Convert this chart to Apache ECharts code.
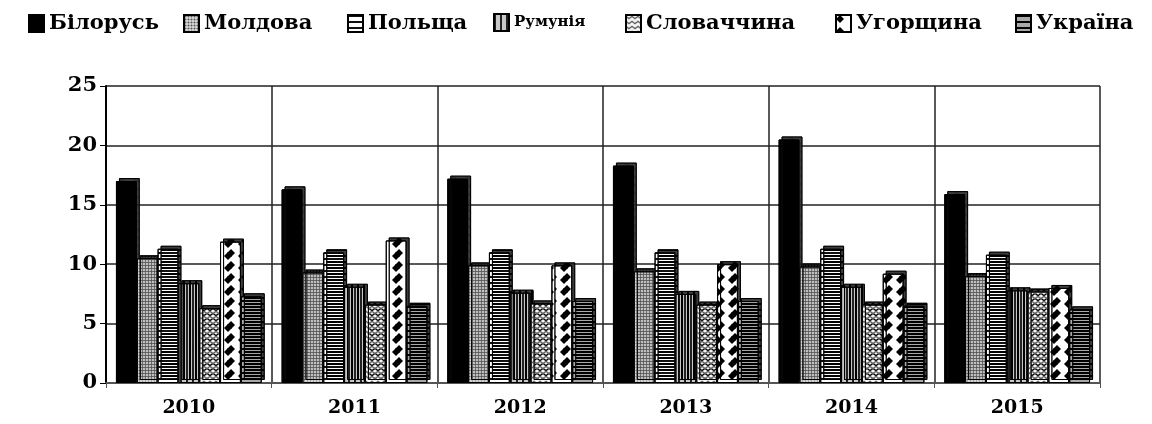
<!DOCTYPE html>
<html>
<head>
<meta charset="utf-8">
<script src="https://cdn.jsdelivr.net/npm/echarts@6/dist/echarts.min.js"></script>
<style>html,body{margin:0;padding:0;background:#fff}#c{width:1152px;height:424px}</style>
</head>
<body>
<div id="c"></div>
<script>
const years = ['2010', '2011', '2012', '2013', '2014', '2015'];
const belarus  = [17.0, 16.3, 17.2, 18.3, 20.5, 15.9];
const moldova  = [10.5, 9.3, 9.9, 9.4, 9.8, 9.0];
const poland   = [11.3, 11.0, 11.0, 11.0, 11.3, 10.8];
const romania  = [8.4, 8.1, 7.6, 7.5, 8.1, 7.8];
const slovakia = [6.3, 6.6, 6.7, 6.6, 6.6, 7.7];
const hungary  = [11.9, 12.0, 9.9, 10.0, 9.2, 8.0];
const ukraine  = [7.3, 6.5, 6.9, 6.9, 6.5, 6.2];
const yTicks = [0, 5, 10, 15, 20, 25];

const names = ['Білорусь', 'Молдова', 'Польща', 'Румунія', 'Словаччина', 'Угорщина', 'Україна'];
const values = [belarus, moldova, poland, romania, slovakia, hungary, ukraine];

const fills = ['#000', '#e0e0e0', '#fff', '#c8c8c8', '#f4f4f4', '#fff', '#a8a8a8'];
const decals = [
  null,
  {symbol: 'circle', symbolSize: 0.7, color: '#555', dashArrayX: [3, 0], dashArrayY: [3, 0], rotation: 0},
  {symbol: 'rect', color: '#111', dashArrayX: [1, 0], dashArrayY: [2, 4], rotation: 0},
  {symbol: 'rect', color: '#222', dashArrayX: [2, 4], dashArrayY: [1, 0], rotation: 0},
  {symbol: 'path://M0,0 L5,4 L10,0 L10,3 L5,7 L0,3 Z', symbolSize: 1, color: '#666', dashArrayX: [6, 0], dashArrayY: [5, 0], rotation: 0},
  {symbol: 'diamond', symbolSize: 1, color: '#000', dashArrayX: [[8, 6]], dashArrayY: [8, 4], rotation: 0},
  {symbol: 'rect', color: '#000', dashArrayX: [1, 0], dashArrayY: [2, 4], rotation: 0}
];

const font = "'DejaVu Serif', 'Liberation Serif', serif";

const series = names.map((n, i) => ({
  name: n,
  type: 'bar',
  data: values[i],
  barGap: '0%',
  barCategoryGap: '12%',
  itemStyle: {
    color: fills[i],
    borderColor: '#000',
    borderWidth: 1,
    decal: decals[i] || undefined,
    shadowColor: 'rgba(40,40,40,0.9)',
    shadowBlur: 0,
    shadowOffsetX: 3,
    shadowOffsetY: -3
  }
}));

const legendX = [28, 183, 347, 493, 625, 835, 1015];
const legends = names.map((n, i) => ({
  top: 13,
  left: legendX[i],
  padding: 0,
  itemWidth: 15,
  itemHeight: 17,
  itemGap: 0,
  icon: 'rect',
  textStyle: {fontFamily: font, fontWeight: 'bold', fontSize: n === 'Румунія' ? 15 : 21, color: '#000'},
  itemStyle: {shadowColor: 'transparent', shadowOffsetX: 0, shadowOffsetY: 0},
  data: [n]
}));

const chart = echarts.init(document.getElementById('c'), null, {renderer: 'canvas'});
chart.setOption({
  animation: false,
  aria: {enabled: true, decal: {show: true}},
  legend: legends,
  grid: {left: 106, right: 52, top: 86, bottom: 41},
  xAxis: {
    type: 'category',
    data: years,
    axisLine: {lineStyle: {color: '#555', width: 2}},
    axisTick: {show: true, lineStyle: {color: '#555'}},
    axisLabel: {fontFamily: font, fontWeight: 'bold', fontSize: 19, color: '#000', margin: 16},
    splitLine: {show: true, lineStyle: {color: '#222', width: 1.5}}
  },
  yAxis: {
    type: 'value',
    min: yTicks[0],
    max: yTicks[yTicks.length - 1],
    interval: 5,
    axisLine: {show: true, lineStyle: {color: '#000', width: 2}},
    axisTick: {show: true, length: 6, lineStyle: {color: '#000'}},
    axisLabel: {fontFamily: font, fontWeight: 'bold', fontSize: 21, color: '#000', margin: 9},
    splitLine: {lineStyle: {color: '#222', width: 1.5}}
  },
  series: series
});
</script>
</body>
</html>
